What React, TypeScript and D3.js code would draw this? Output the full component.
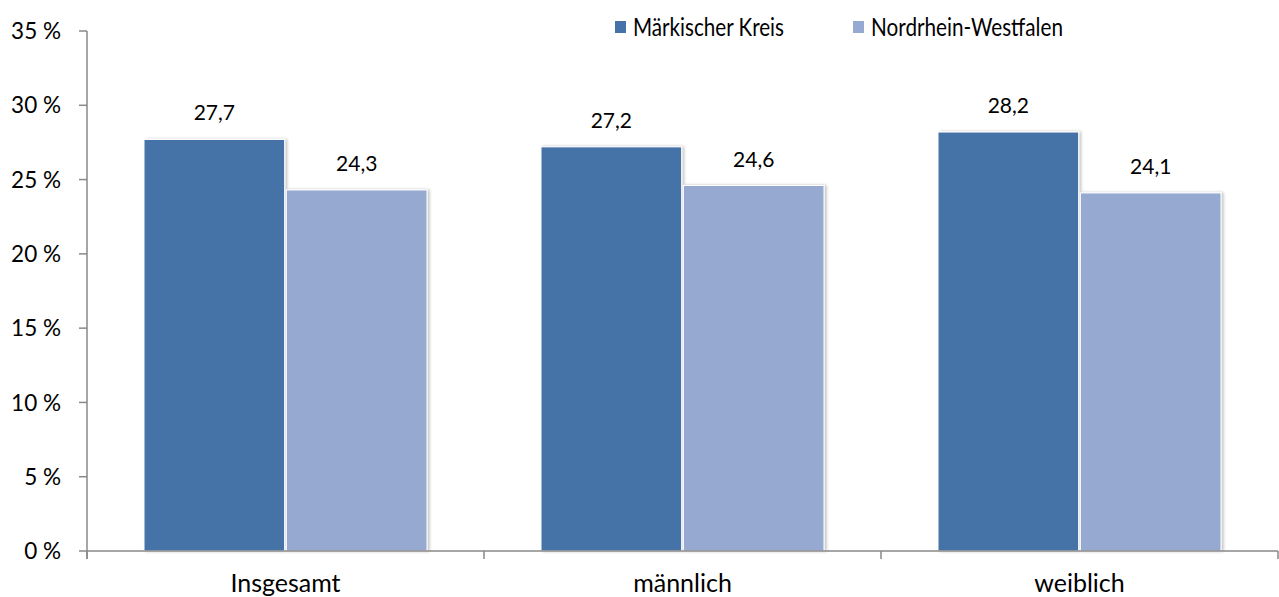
import React from "react";
import * as d3 from "d3";

const categories = ["Insgesamt", "männlich", "weiblich"];
const seriesNames = ["Märkischer Kreis", "Nordrhein-Westfalen"];
const maerkischerKreis = [27.7, 27.2, 28.2];
const nrw = [24.3, 24.6, 24.1];
const yTicks = [0, 5, 10, 15, 20, 25, 30, 35];
const colors = ["#4573A7", "#95A9D1"];

const W = 1279;
const H = 597;
const FONT = "Lato, 'Open Sans', sans-serif";

export default function App() {
  const x0 = d3.scaleBand<string>().domain(categories).range([87, 1278]).padding(0);
  const x1 = d3
    .scaleBand<string>()
    .domain(seriesNames)
    .range([57, x0.bandwidth() - 57])
    .paddingInner(0.012);
  const y = d3.scaleLinear().domain([0, 35]).range([551, 31]);
  const values = [maerkischerKreis, nrw];
  const fmt = (v: number) => v.toFixed(1).replace(".", ",");

  return (
    <svg
      width={W}
      height={H}
      style={{ position: "absolute", left: 0, top: 0, background: "#fff" }}
      fontFamily={FONT}
    >
      <defs>
        <filter id="sh" x="-10%" y="-10%" width="130%" height="120%">
          <feGaussianBlur in="SourceAlpha" stdDeviation="1.5" />
          <feOffset dx="2" dy="0" result="b" />
          <feComponentTransfer>
            <feFuncA type="linear" slope="0.25" />
          </feComponentTransfer>
          <feMerge>
            <feMergeNode />
            <feMergeNode in="SourceGraphic" />
          </feMerge>
        </filter>
      </defs>
      {/* bars */}
      {categories.map((c, ci) =>
        seriesNames.map((s, si) => {
          const v = values[si][ci];
          const bx = (x0(c) as number) + (x1(s) as number);
          const by = y(v);
          return (
            <g key={c + s}>
              <rect
                x={bx}
                y={by}
                width={x1.bandwidth()}
                height={y(0) - by}
                fill={colors[si]}
                stroke="#fff"
                strokeWidth={1}
                filter="url(#sh)"
              />
              <text
                x={bx + x1.bandwidth() / 2}
                y={by - 19}
                textAnchor="middle"
                fontSize={21}
                fill="#000"
              >
                {fmt(v)}
              </text>
            </g>
          );
        })
      )}
      {/* y axis */}
      <line x1={87} x2={87} y1={31} y2={559} stroke="#888" strokeWidth={1.5} />
      {yTicks.map((t) => (
        <g key={t}>
          <line x1={79} x2={87} y1={y(t)} y2={y(t)} stroke="#888" strokeWidth={1.5} />
          <text
            x={61}
            y={y(t)}
            dy="0.36em"
            textAnchor="end"
            fontSize={22.5}
            fill="#000"
          >
            {t} %
          </text>
        </g>
      ))}
      {/* x axis */}
      <line x1={87} x2={1278} y1={551} y2={551} stroke="#888" strokeWidth={1.5} />
      {[...categories.map((c) => x0(c) as number), 1278].map((xv, i) => (
        <line key={i} x1={xv} x2={xv} y1={551} y2={559} stroke="#888" strokeWidth={1.5} />
      ))}
      {categories.map((c) => (
        <text
          key={c}
          x={(x0(c) as number) + x0.bandwidth() / 2}
          y={592}
          textAnchor="middle"
          fontSize={25}
          fill="#000"
        >
          {c}
        </text>
      ))}
      {/* legend */}
      {seriesNames.map((s, i) => {
        const lx = [615, 853][i];
        return (
          <g key={s}>
            <rect x={lx} y={21} width={11} height={12} fill={colors[i]} />
            <text x={lx + 18} y={36} fontSize={25.5} fill="#000" textLength={i === 0 ? 151 : 192} lengthAdjust="spacingAndGlyphs">
              {s}
            </text>
          </g>
        );
      })}
    </svg>
  );
}
